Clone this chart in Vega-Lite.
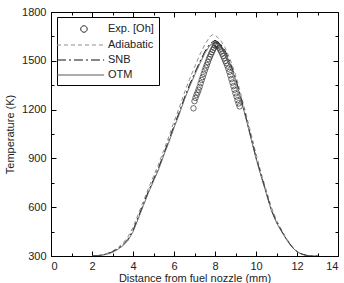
{
  "$schema": "https://vega.github.io/schema/vega-lite/v6.json",
  "autosize": {"type": "none"},
  "padding": {"left": 51, "top": 12, "right": 6, "bottom": 27},
  "width": 287,
  "height": 244,
  "background": "white",
  "config": {
    "font": "Liberation Sans",
    "view": {"stroke": "black", "strokeWidth": 1},
    "axis": {
      "labelFont": "Liberation Sans",
      "titleFont": "Liberation Sans",
      "labelFontSize": 11,
      "titleFontSize": 11,
      "labelColor": "#222",
      "titleColor": "#222",
      "titleFontWeight": "normal",
      "grid": false,
      "domainColor": "black",
      "tickColor": "black",
      "tickWidth": 1
    },
    "legend": {
      "fillColor": "white",
      "strokeColor": "black",
      "padding": 5,
      "labelFont": "Liberation Sans",
      "labelFontSize": 11,
      "labelColor": "#222",
      "rowPadding": 3,
      "symbolStrokeWidth": 1,
      "symbolSize": 169
    }
  },
  "datasets": {
    "sim": [
      {"x": 2.0, "T": 300, "series": "Adiabatic"},
      {"x": 2.25, "T": 302, "series": "Adiabatic"},
      {"x": 2.5, "T": 308, "series": "Adiabatic"},
      {"x": 2.75, "T": 317, "series": "Adiabatic"},
      {"x": 3.0, "T": 330, "series": "Adiabatic"},
      {"x": 3.25, "T": 350, "series": "Adiabatic"},
      {"x": 3.5, "T": 378, "series": "Adiabatic"},
      {"x": 3.75, "T": 418, "series": "Adiabatic"},
      {"x": 4.0, "T": 475, "series": "Adiabatic"},
      {"x": 4.25, "T": 555, "series": "Adiabatic"},
      {"x": 4.5, "T": 635, "series": "Adiabatic"},
      {"x": 4.75, "T": 715, "series": "Adiabatic"},
      {"x": 5.0, "T": 790, "series": "Adiabatic"},
      {"x": 5.25, "T": 865, "series": "Adiabatic"},
      {"x": 5.5, "T": 950, "series": "Adiabatic"},
      {"x": 5.75, "T": 1035, "series": "Adiabatic"},
      {"x": 6.0, "T": 1125, "series": "Adiabatic"},
      {"x": 6.25, "T": 1210, "series": "Adiabatic"},
      {"x": 6.5, "T": 1300, "series": "Adiabatic"},
      {"x": 6.75, "T": 1385, "series": "Adiabatic"},
      {"x": 7.0, "T": 1460, "series": "Adiabatic"},
      {"x": 7.25, "T": 1535, "series": "Adiabatic"},
      {"x": 7.5, "T": 1600, "series": "Adiabatic"},
      {"x": 7.75, "T": 1648, "series": "Adiabatic"},
      {"x": 7.9, "T": 1662, "series": "Adiabatic"},
      {"x": 8.0, "T": 1658, "series": "Adiabatic"},
      {"x": 8.25, "T": 1630, "series": "Adiabatic"},
      {"x": 8.5, "T": 1580, "series": "Adiabatic"},
      {"x": 8.75, "T": 1505, "series": "Adiabatic"},
      {"x": 9.0, "T": 1415, "series": "Adiabatic"},
      {"x": 9.25, "T": 1300, "series": "Adiabatic"},
      {"x": 9.5, "T": 1180, "series": "Adiabatic"},
      {"x": 9.75, "T": 1055, "series": "Adiabatic"},
      {"x": 10.0, "T": 930, "series": "Adiabatic"},
      {"x": 10.25, "T": 810, "series": "Adiabatic"},
      {"x": 10.5, "T": 705, "series": "Adiabatic"},
      {"x": 10.75, "T": 600, "series": "Adiabatic"},
      {"x": 11.0, "T": 520, "series": "Adiabatic"},
      {"x": 11.25, "T": 460, "series": "Adiabatic"},
      {"x": 11.5, "T": 405, "series": "Adiabatic"},
      {"x": 11.75, "T": 360, "series": "Adiabatic"},
      {"x": 12.0, "T": 328, "series": "Adiabatic"},
      {"x": 12.25, "T": 312, "series": "Adiabatic"},
      {"x": 12.5, "T": 304, "series": "Adiabatic"},
      {"x": 12.75, "T": 300, "series": "Adiabatic"},
      {"x": 13.0, "T": 300, "series": "Adiabatic"},

      {"x": 2.0, "T": 300, "series": "SNB"},
      {"x": 2.25, "T": 301, "series": "SNB"},
      {"x": 2.5, "T": 306, "series": "SNB"},
      {"x": 2.75, "T": 314, "series": "SNB"},
      {"x": 3.0, "T": 326, "series": "SNB"},
      {"x": 3.25, "T": 344, "series": "SNB"},
      {"x": 3.5, "T": 368, "series": "SNB"},
      {"x": 3.75, "T": 402, "series": "SNB"},
      {"x": 4.0, "T": 457, "series": "SNB"},
      {"x": 4.25, "T": 537, "series": "SNB"},
      {"x": 4.5, "T": 617, "series": "SNB"},
      {"x": 4.75, "T": 697, "series": "SNB"},
      {"x": 5.0, "T": 770, "series": "SNB"},
      {"x": 5.25, "T": 843, "series": "SNB"},
      {"x": 5.5, "T": 928, "series": "SNB"},
      {"x": 5.75, "T": 1012, "series": "SNB"},
      {"x": 6.0, "T": 1100, "series": "SNB"},
      {"x": 6.25, "T": 1182, "series": "SNB"},
      {"x": 6.5, "T": 1270, "series": "SNB"},
      {"x": 6.75, "T": 1350, "series": "SNB"},
      {"x": 7.0, "T": 1422, "series": "SNB"},
      {"x": 7.25, "T": 1492, "series": "SNB"},
      {"x": 7.5, "T": 1556, "series": "SNB"},
      {"x": 7.75, "T": 1605, "series": "SNB"},
      {"x": 8.0, "T": 1626, "series": "SNB"},
      {"x": 8.25, "T": 1608, "series": "SNB"},
      {"x": 8.5, "T": 1560, "series": "SNB"},
      {"x": 8.75, "T": 1486, "series": "SNB"},
      {"x": 9.0, "T": 1393, "series": "SNB"},
      {"x": 9.25, "T": 1280, "series": "SNB"},
      {"x": 9.5, "T": 1158, "series": "SNB"},
      {"x": 9.75, "T": 1032, "series": "SNB"},
      {"x": 10.0, "T": 907, "series": "SNB"},
      {"x": 10.25, "T": 796, "series": "SNB"},
      {"x": 10.5, "T": 690, "series": "SNB"},
      {"x": 10.75, "T": 583, "series": "SNB"},
      {"x": 11.0, "T": 509, "series": "SNB"},
      {"x": 11.25, "T": 453, "series": "SNB"},
      {"x": 11.5, "T": 401, "series": "SNB"},
      {"x": 11.75, "T": 357, "series": "SNB"},
      {"x": 12.0, "T": 326, "series": "SNB"},
      {"x": 12.25, "T": 311, "series": "SNB"},
      {"x": 12.5, "T": 303, "series": "SNB"},
      {"x": 12.75, "T": 300, "series": "SNB"},
      {"x": 13.0, "T": 300, "series": "SNB"},

      {"x": 2.0, "T": 300, "series": "OTM"},
      {"x": 2.25, "T": 301, "series": "OTM"},
      {"x": 2.5, "T": 305, "series": "OTM"},
      {"x": 2.75, "T": 312, "series": "OTM"},
      {"x": 3.0, "T": 323, "series": "OTM"},
      {"x": 3.25, "T": 340, "series": "OTM"},
      {"x": 3.5, "T": 362, "series": "OTM"},
      {"x": 3.75, "T": 395, "series": "OTM"},
      {"x": 4.0, "T": 448, "series": "OTM"},
      {"x": 4.25, "T": 528, "series": "OTM"},
      {"x": 4.5, "T": 608, "series": "OTM"},
      {"x": 4.75, "T": 688, "series": "OTM"},
      {"x": 5.0, "T": 760, "series": "OTM"},
      {"x": 5.25, "T": 832, "series": "OTM"},
      {"x": 5.5, "T": 918, "series": "OTM"},
      {"x": 5.75, "T": 1000, "series": "OTM"},
      {"x": 6.0, "T": 1088, "series": "OTM"},
      {"x": 6.25, "T": 1170, "series": "OTM"},
      {"x": 6.5, "T": 1258, "series": "OTM"},
      {"x": 6.75, "T": 1338, "series": "OTM"},
      {"x": 7.0, "T": 1410, "series": "OTM"},
      {"x": 7.25, "T": 1480, "series": "OTM"},
      {"x": 7.5, "T": 1545, "series": "OTM"},
      {"x": 7.75, "T": 1595, "series": "OTM"},
      {"x": 8.0, "T": 1618, "series": "OTM"},
      {"x": 8.25, "T": 1600, "series": "OTM"},
      {"x": 8.5, "T": 1552, "series": "OTM"},
      {"x": 8.75, "T": 1478, "series": "OTM"},
      {"x": 9.0, "T": 1385, "series": "OTM"},
      {"x": 9.25, "T": 1272, "series": "OTM"},
      {"x": 9.5, "T": 1150, "series": "OTM"},
      {"x": 9.75, "T": 1025, "series": "OTM"},
      {"x": 10.0, "T": 900, "series": "OTM"},
      {"x": 10.25, "T": 790, "series": "OTM"},
      {"x": 10.5, "T": 685, "series": "OTM"},
      {"x": 10.75, "T": 578, "series": "OTM"},
      {"x": 11.0, "T": 505, "series": "OTM"},
      {"x": 11.25, "T": 450, "series": "OTM"},
      {"x": 11.5, "T": 398, "series": "OTM"},
      {"x": 11.75, "T": 355, "series": "OTM"},
      {"x": 12.0, "T": 325, "series": "OTM"},
      {"x": 12.25, "T": 310, "series": "OTM"},
      {"x": 12.5, "T": 303, "series": "OTM"},
      {"x": 12.75, "T": 300, "series": "OTM"},
      {"x": 13.0, "T": 300, "series": "OTM"}
    ],
    "exp": [
      {"x": 6.95, "T": 1208, "series": "Exp. [Oh]"},
      {"x": 7.0, "T": 1252, "series": "Exp. [Oh]"},
      {"x": 7.05, "T": 1272, "series": "Exp. [Oh]"},
      {"x": 7.1, "T": 1290, "series": "Exp. [Oh]"},
      {"x": 7.15, "T": 1305, "series": "Exp. [Oh]"},
      {"x": 7.2, "T": 1322, "series": "Exp. [Oh]"},
      {"x": 7.25, "T": 1340, "series": "Exp. [Oh]"},
      {"x": 7.3, "T": 1362, "series": "Exp. [Oh]"},
      {"x": 7.35, "T": 1382, "series": "Exp. [Oh]"},
      {"x": 7.4, "T": 1400, "series": "Exp. [Oh]"},
      {"x": 7.45, "T": 1420, "series": "Exp. [Oh]"},
      {"x": 7.5, "T": 1440, "series": "Exp. [Oh]"},
      {"x": 7.55, "T": 1458, "series": "Exp. [Oh]"},
      {"x": 7.6, "T": 1475, "series": "Exp. [Oh]"},
      {"x": 7.65, "T": 1492, "series": "Exp. [Oh]"},
      {"x": 7.7, "T": 1510, "series": "Exp. [Oh]"},
      {"x": 7.75, "T": 1525, "series": "Exp. [Oh]"},
      {"x": 7.8, "T": 1540, "series": "Exp. [Oh]"},
      {"x": 7.85, "T": 1553, "series": "Exp. [Oh]"},
      {"x": 7.9, "T": 1567, "series": "Exp. [Oh]"},
      {"x": 7.95, "T": 1580, "series": "Exp. [Oh]"},
      {"x": 8.0, "T": 1593, "series": "Exp. [Oh]"},
      {"x": 8.05, "T": 1600, "series": "Exp. [Oh]"},
      {"x": 8.1, "T": 1598, "series": "Exp. [Oh]"},
      {"x": 8.15, "T": 1591, "series": "Exp. [Oh]"},
      {"x": 8.2, "T": 1581, "series": "Exp. [Oh]"},
      {"x": 8.25, "T": 1569, "series": "Exp. [Oh]"},
      {"x": 8.3, "T": 1557, "series": "Exp. [Oh]"},
      {"x": 8.35, "T": 1544, "series": "Exp. [Oh]"},
      {"x": 8.4, "T": 1530, "series": "Exp. [Oh]"},
      {"x": 8.45, "T": 1515, "series": "Exp. [Oh]"},
      {"x": 8.5, "T": 1500, "series": "Exp. [Oh]"},
      {"x": 8.55, "T": 1486, "series": "Exp. [Oh]"},
      {"x": 8.6, "T": 1470, "series": "Exp. [Oh]"},
      {"x": 8.65, "T": 1452, "series": "Exp. [Oh]"},
      {"x": 8.7, "T": 1432, "series": "Exp. [Oh]"},
      {"x": 8.75, "T": 1411, "series": "Exp. [Oh]"},
      {"x": 8.8, "T": 1388, "series": "Exp. [Oh]"},
      {"x": 8.85, "T": 1366, "series": "Exp. [Oh]"},
      {"x": 8.9, "T": 1344, "series": "Exp. [Oh]"},
      {"x": 8.95, "T": 1322, "series": "Exp. [Oh]"},
      {"x": 9.0, "T": 1300, "series": "Exp. [Oh]"},
      {"x": 9.05, "T": 1280, "series": "Exp. [Oh]"},
      {"x": 9.1, "T": 1258, "series": "Exp. [Oh]"},
      {"x": 9.15, "T": 1238, "series": "Exp. [Oh]"},
      {"x": 9.2, "T": 1220, "series": "Exp. [Oh]"}
    ]
  },
  "resolve": {"axis": {"x": "independent", "y": "independent"}},
  "layer": [
    {
      "data": {"name": "sim"},
      "mark": {"type": "line", "strokeWidth": 1, "clip": true},
      "encoding": {
        "x": {
          "field": "x", "type": "quantitative",
          "scale": {"domain": [0, 14], "nice": false, "zero": false},
          "axis": {
            "orient": "bottom",
            "title": "Distance from fuel nozzle (mm)",
            "values": [0, 1, 2, 3, 4, 5, 6, 7, 8, 9, 10, 11, 12, 13, 14],
            "labelExpr": "datum.value % 2 === 0 ? datum.label : ''",
            "tickSize": {"condition": {"test": "datum.value % 2 === 0", "value": -5}, "value": -3},
            "labelPadding": 9,
            "titlePadding": 1
          }
        },
        "y": {
          "field": "T", "type": "quantitative",
          "scale": {"domain": [300, 1800], "nice": false, "zero": false},
          "axis": {
            "orient": "left",
            "title": "Temperature (K)",
            "values": [300, 450, 600, 750, 900, 1050, 1200, 1350, 1500, 1650, 1800],
            "labelExpr": "datum.value % 300 === 0 ? datum.label : ''",
            "format": "d",
            "tickSize": {"condition": {"test": "datum.value % 300 === 0", "value": -5}, "value": -3},
            "labelPadding": 10,
            "titlePadding": 6
          }
        },
        "color": {
          "field": "series", "type": "nominal",
          "scale": {
            "domain": ["Exp. [Oh]", "Adiabatic", "SNB", "OTM"],
            "range": ["#2a2a2a", "#8c8c8c", "#111111", "#5a5a5a"]
          },
          "legend": {
            "title": null,
            "orient": "none",
            "legendX": 6,
            "legendY": 5,
            "symbolSize": 169,
            "encode": {
              "symbols": {
                "update": {
                  "shape": {"signal": "datum.value === 'Exp. [Oh]' ? 'M-1.85,0L-1.85,0M5.4,0L5.4,0M1.8,0A0.5,0.5 0 1,0 2.8,0A0.5,0.5 0 1,0 1.8,0Z' : 'M-1.85,0H5.4'"},
                  "size": {"value": 169},
                  "fill": {"value": "transparent"},
                  "strokeCap": {"value": "butt"},
                  "strokeDash": {"signal": "datum.value === 'Adiabatic' ? [4, 3] : datum.value === 'SNB' ? [9, 3, 2, 3] : [1, 0]"}
                }
              },
              "labels": {
                "update": {
                  "dx": {"value": 28}
                }
              }
            }
          }
        },
        "strokeDash": {
          "field": "series", "type": "nominal",
          "scale": {
            "domain": ["Exp. [Oh]", "Adiabatic", "SNB", "OTM"],
            "range": [[1, 0], [4, 3], [9, 3, 2, 3], [1, 0]]
          },
          "legend": null
        }
      }
    },
    {
      "data": {"name": "exp"},
      "mark": {"type": "point", "filled": false, "size": 30, "strokeWidth": 0.7, "opacity": 1, "color": "#2a2a2a"},
      "encoding": {
        "x": {
          "field": "x", "type": "quantitative",
          "scale": {"domain": [0, 14], "nice": false, "zero": false},
          "axis": {
            "orient": "top", "title": null, "labels": false, "domain": false,
            "values": [0, 1, 2, 3, 4, 5, 6, 7, 8, 9, 10, 11, 12, 13, 14],
            "tickSize": {"condition": {"test": "datum.value % 2 === 0", "value": -5}, "value": -3}
          }
        },
        "y": {
          "field": "T", "type": "quantitative",
          "scale": {"domain": [300, 1800], "nice": false, "zero": false},
          "axis": {
            "orient": "right", "title": null, "labels": false, "domain": false,
            "values": [300, 450, 600, 750, 900, 1050, 1200, 1350, 1500, 1650, 1800],
            "tickSize": {"condition": {"test": "datum.value % 300 === 0", "value": -5}, "value": -3}
          }
        }
      }
    }
  ]
}
